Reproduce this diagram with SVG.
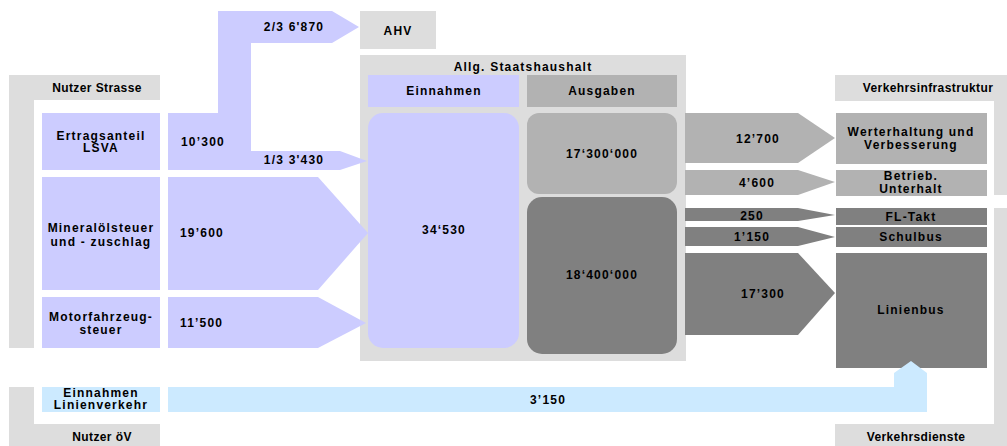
<svg xmlns="http://www.w3.org/2000/svg" width="1007" height="446" viewBox="0 0 1007 446">
<style>
text{font-family:"Liberation Sans",Arial,sans-serif;font-weight:bold;font-size:12px;fill:#000;letter-spacing:1.2px}
.c{text-anchor:middle}
.hd{letter-spacing:0.4px}
.lav{fill:#ccccff}
.lg{fill:#dddddd}
.mg{fill:#b2b2b2}
.dg{fill:#808080}
.lb{fill:#cceaff}
</style>
<rect width="1007" height="446" fill="#ffffff"/>
<g id="nutzer-strasse">
<polygon class="lg" points="9,75 160,75 160,100 34,100 34,348 9,348"/>
<text class="c hd" x="97" y="92">Nutzer Strasse</text>
</g>
<g id="nutzer-oev">
<polygon class="lg" points="9,387 34,387 34,424 160,424 160,446 9,446"/>
<text class="c hd" x="102" y="441">Nutzer öV</text>
</g>
<g id="verkehrsinfrastruktur">
<polygon class="lg" points="835,75 1007,75 1007,195 994,195 994,101 835,101"/>
<text class="c hd" x="928" y="92">Verkehrsinfrastruktur</text>
</g>
<g id="verkehrsdienste">
<polygon class="lg" points="994,208 1007,208 1007,446 835,446 835,424 994,424"/>
<text class="c hd" x="916" y="441">Verkehrsdienste</text>
</g>
<g id="ertragsanteil">
<rect class="lav" x="42" y="113" width="118" height="57"/>
<text class="c" x="101" y="140">Ertragsanteil</text>
<text class="c" x="101" y="152">LSVA</text>
</g>
<g id="mineraloelsteuer">
<rect class="lav" x="42" y="177" width="118" height="113"/>
<text class="c" x="101" y="232">Mineralölsteuer</text>
<text class="c" x="101" y="246">und - zuschlag</text>
</g>
<g id="motorfahrzeugsteuer">
<rect class="lav" x="42" y="297" width="118" height="51"/>
<text class="c" x="101" y="321">Motorfahrzeug-</text>
<text class="c" x="101" y="334">steuer</text>
</g>
<g id="einnahmen-linienverkehr">
<rect class="lb" x="42" y="387" width="118" height="25"/>
<text class="c" x="101" y="397">Einnahmen</text>
<text class="c" x="101" y="409">Linienverkehr</text>
</g>
<g id="ahv">
<rect class="lg" x="360" y="11" width="76" height="38"/>
<text class="c" x="398" y="35">AHV</text>
</g>
<g id="staatshaushalt">
<rect class="lg" x="360" y="55" width="326" height="306"/>
<text class="c" x="523" y="71">Allg. Staatshaushalt</text>
<rect class="lav" x="368" y="75" width="151" height="32"/>
<text class="c" x="444" y="95">Einnahmen</text>
<rect class="mg" x="527" y="75" width="150" height="32"/>
<text class="c" x="602" y="95">Ausgaben</text>
</g>
<g id="einnahmen-total">
<rect class="lav" x="368" y="113" width="151" height="235" rx="15"/>
<text class="c" x="444" y="234">34‘530</text>
</g>
<g id="ausgaben-infrastruktur">
<rect class="mg" x="527" y="113" width="150" height="81" rx="12"/>
<text class="c" x="602" y="158">17‘300‘000</text>
</g>
<g id="ausgaben-dienste">
<rect class="dg" x="527" y="197" width="150" height="157" rx="15"/>
<text class="c" x="602" y="279">18‘400‘000</text>
</g>
<g id="werterhaltung">
<rect class="mg" x="836" y="113" width="151" height="51"/>
<text class="c" x="911" y="136">Werterhaltung und</text>
<text class="c" x="911" y="149">Verbesserung</text>
</g>
<g id="betrieb-unterhalt">
<rect class="mg" x="836" y="170" width="151" height="26"/>
<text class="c" x="911" y="180">Betrieb.</text>
<text class="c" x="911" y="193">Unterhalt</text>
</g>
<g id="fl-takt">
<rect class="dg" x="836" y="208" width="151" height="17"/>
<text class="c" x="911" y="221">FL-Takt</text>
</g>
<g id="schulbus">
<rect class="dg" x="836" y="227" width="151" height="20"/>
<text class="c" x="911" y="241">Schulbus</text>
</g>
<g id="linienbus">
<rect class="dg" x="836" y="253" width="151" height="115"/>
<text class="c" x="911" y="314">Linienbus</text>
</g>
<g id="connectors">
<polygon class="lav" points="168,113 218,113 218,11 332,11 359,27 332,43 251,43 251,151 340,151 367,161 340,170 168,170"/>
<text x="181" y="146">10’300</text>
<text class="c" x="294" y="31">2/3 6'870</text>
<text class="c" x="294" y="164">1/3 3'430</text>
<polygon class="lav" points="168,177 318,177 368,233 318,290 168,290"/>
<text x="180" y="237">19’600</text>
<polygon class="lav" points="168,297 318,297 366,323 318,348 168,348"/>
<text x="180" y="327">11’500</text>
<polygon class="mg" points="685,113 798,113 835,138 798,163 685,163"/>
<text class="c" x="758" y="143">12’700</text>
<polygon class="mg" points="685,170 798,170 835,182 798,195 685,195"/>
<text class="c" x="757" y="187">4’600</text>
<polygon class="dg" points="685,208 798,208 835,215 798,221 685,221"/>
<text class="c" x="752" y="220">250</text>
<polygon class="dg" points="685,227 798,227 835,237 798,246 685,246"/>
<text class="c" x="752" y="241">1’150</text>
<polygon class="dg" points="685,253 798,253 835,293 798,335 685,335"/>
<text class="c" x="763" y="298">17’300</text>
<polygon class="lb" points="168,387 894,387 894,373 911,361 927,373 927,412 168,412"/>
<text class="c" x="548" y="404">3’150</text>
</g>
</svg>
